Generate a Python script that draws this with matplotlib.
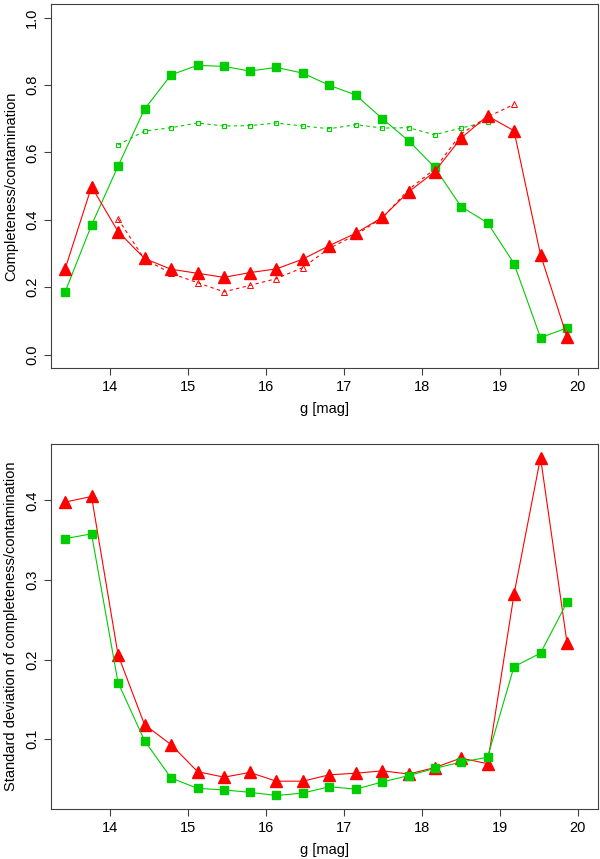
import numpy as np
import matplotlib
matplotlib.use("Agg")
import matplotlib.pyplot as plt

plt.rcParams['font.family'] = ['Liberation Sans', 'DejaVu Sans']

# magnitude bins
g_mag = [13.42, 13.76, 14.10, 14.44, 14.78, 15.12, 15.46, 15.79, 16.13, 16.47,
         16.81, 17.15, 17.49, 17.83, 18.16, 18.50, 18.84, 19.18, 19.52, 19.86]

# top panel: completeness (green) and contamination (red)
completeness = [0.185, 0.384, 0.559, 0.728, 0.830, 0.858, 0.855, 0.841, 0.852, 0.835,
                0.799, 0.770, 0.700, 0.634, 0.556, 0.439, 0.391, 0.270, 0.050, 0.079]
contamination = [0.253, 0.498, 0.365, 0.285, 0.253, 0.241, 0.229, 0.243, 0.254, 0.283,
                  0.323, 0.360, 0.407, 0.483, 0.542, 0.642, 0.708, 0.664, 0.296, 0.052]
# dashed reference curves (bins 3..17 and 3..18)
completeness_ref = [0.622, 0.663, 0.673, 0.687, 0.678, 0.679, 0.687, 0.678,
                    0.670, 0.682, 0.672, 0.673, 0.652, 0.672, 0.691]
contamination_ref = [0.402, 0.283, 0.241, 0.213, 0.186, 0.205, 0.225, 0.258,
                     0.315, 0.355, 0.405, 0.490, 0.550, 0.655, 0.705, 0.742]

# bottom panel: standard deviations
sd_completeness = [0.352, 0.358, 0.171, 0.098, 0.051, 0.038, 0.036, 0.033, 0.029, 0.032,
                   0.040, 0.037, 0.046, 0.054, 0.063, 0.071, 0.077, 0.191, 0.208, 0.272]
sd_contamination = [0.398, 0.405, 0.206, 0.118, 0.093, 0.059, 0.052, 0.058, 0.047, 0.047,
                    0.055, 0.057, 0.060, 0.056, 0.064, 0.076, 0.069, 0.282, 0.454, 0.221]

GREEN = '#00CD00'
RED = '#FF0000'
FS = 10.5


def r_style(ax, xlim, ylim):
    ax.set_xlim(*xlim)
    ax.set_ylim(*ylim)
    for s in ax.spines.values():
        s.set_color('0.25')
        s.set_linewidth(0.8)
    ax.tick_params(direction='out', length=5, width=0.8, color='0.25',
                   labelsize=FS, pad=3.5)
    ax.set_xticks([14, 15, 16, 17, 18, 19, 20])
    for lab in ax.get_yticklabels():
        lab.set_rotation(90)
        lab.set_va('center')
    ax.set_xlabel('g [mag]', fontsize=FS, labelpad=6)


def padded(lo, hi):
    d = (hi - lo) * 0.04
    return lo - d, hi + d


fig = plt.figure(figsize=(6.0, 8.59), dpi=100)
ax1 = fig.add_axes([0.085, 0.5716, 0.912, 0.4237])
ax2 = fig.add_axes([0.085, 0.0582, 0.912, 0.4249])

g = np.array(g_mag)

# top panel
ax1.plot(g, completeness, color=GREEN, lw=0.8, marker='s', ms=6, mec=GREEN, zorder=3)
ax1.plot(g, contamination, color=RED, lw=0.8, marker='^', ms=8.5, mec=RED, zorder=4)
ax1.plot(g[2:17], completeness_ref, color=GREEN, lw=0.8, ls=(0, (3, 3)),
         marker='s', ms=3.5, mfc='none', mec=GREEN, mew=0.8, zorder=2)
ax1.plot(g[2:18], contamination_ref, color=RED, lw=0.8, ls=(0, (3, 3)),
         marker='^', ms=4.5, mfc='none', mec=RED, mew=0.7, zorder=2)
ax1.set_yticks([0.0, 0.2, 0.4, 0.6, 0.8, 1.0])
ax1.set_yticklabels(['0.0', '0.2', '0.4', '0.6', '0.8', '1.0'])
r_style(ax1, padded(13.5, 20.0), padded(0.0, 1.0))
ax1.set_ylabel('Completeness/contamination', fontsize=FS, labelpad=5)

# bottom panel
ax2.plot(g, sd_completeness, color=GREEN, lw=0.8, marker='s', ms=6, mec=GREEN, zorder=3)
ax2.plot(g, sd_contamination, color=RED, lw=0.8, marker='^', ms=8.5, mec=RED, zorder=2)
ax2.set_yticks([0.1, 0.2, 0.3, 0.4])
ax2.set_yticklabels(['0.1', '0.2', '0.3', '0.4'])
lo = min(min(sd_completeness), min(sd_contamination))
hi = max(max(sd_completeness), max(sd_contamination))
r_style(ax2, padded(13.5, 20.0), padded(lo, hi))
ax2.set_ylabel('Standard deviation of completeness/contamination', fontsize=FS, labelpad=5)

fig.savefig('out.png', dpi=100)
